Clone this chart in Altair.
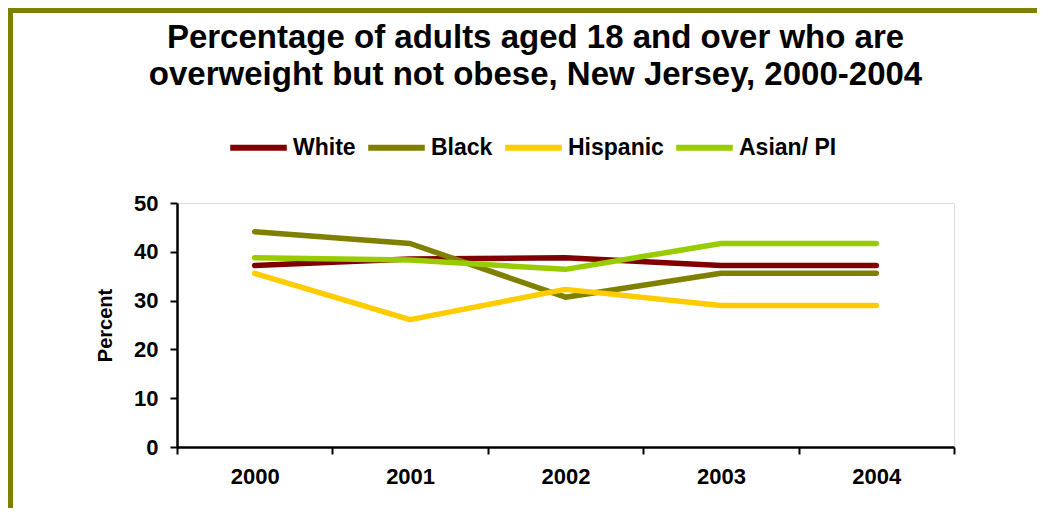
import altair as alt
import pandas as pd

years = ["2000", "2001", "2002", "2003", "2004"]
groups = ["White", "Black", "Hispanic", "Asian/ PI"]
colors = ["#800000", "#808000", "#FFCC00", "#99CC00"]
white = [37.2, 38.5, 38.8, 37.2, 37.2]
black = [44.1, 41.7, 30.7, 35.6, 35.6]
hispanic = [35.6, 26.1, 32.3, 29.0, 29.0]
asian = [38.8, 38.3, 36.4, 41.7, 41.7]

series = {"White": white, "Black": black, "Hispanic": hispanic, "Asian/ PI": asian}
rows = []
for g in groups:
    for y, v in zip(years, series[g]):
        rows.append({"Year": y, "Group": g, "Percent": v})
df = pd.DataFrame(rows)

FONT = "Liberation Sans"

lines = alt.Chart(df).mark_line(strokeWidth=5.5, strokeCap="round", strokeJoin="round").encode(
    x=alt.X("Year:O", bandPosition=0.5,
            scale=alt.Scale(type="band", paddingInner=0, paddingOuter=0),
            axis=alt.Axis(title=None, labelAngle=0, tickBand="extent", labelFontSize=22,
                          labelFontWeight="bold", labelFont=FONT, labelColor="black",
                          labelPadding=12, tickSize=7, tickWidth=2, domainWidth=2.5,
                          domainColor="black", tickColor="black")),
    y=alt.Y("Percent:Q", scale=alt.Scale(domain=[0, 50], nice=False),
            axis=alt.Axis(title="Percent", values=[0, 10, 20, 30, 40, 50], grid=False,
                          labelFontSize=22, labelFontWeight="bold", labelFont=FONT,
                          labelColor="black", labelPadding=12, tickSize=7, tickWidth=2,
                          domainWidth=2.5, domainColor="black", tickColor="black",
                          titleFontSize=20, titleFont=FONT, titleFontWeight="bold",
                          titleColor="black", titlePadding=18)),
    color=alt.Color("Group:N", scale=alt.Scale(domain=groups, range=colors),
                    legend=alt.Legend(title=None, orient="none", direction="horizontal",
                                      legendX=50, legendY=-87, symbolType="stroke",
                                      symbolSize=3200, symbolStrokeWidth=6,
                                      labelFontSize=23, labelFont=FONT, labelFontWeight="bold",
                                      labelColor="black", labelOffset=3, columnPadding=0)),
)

one = pd.DataFrame({"a": [0]})
top_border = alt.Chart(one).mark_rule(color="#808000", strokeWidth=5).encode(
    x=alt.value(-169), x2=alt.value(860), y=alt.value(-192.5))
left_border = alt.Chart(one).mark_rule(color="#808000", strokeWidth=5).encode(
    x=alt.value(-166.5), y=alt.value(-195), y2=alt.value(320))

chart = alt.layer(top_border, left_border, lines).properties(
    width=777, height=244,
    padding={"left": 169, "top": 195, "right": 87, "bottom": 61},
    autosize=alt.AutoSizeParams(type="none"),
    title=alt.TitleParams(
        ["Percentage of adults aged 18 and over who are",
         "overweight but not obese, New Jersey, 2000-2004"],
        anchor="middle", frame="group", dx=-30, offset=-86, fontSize=33, font=FONT,
        fontWeight="bold", color="black", lineHeight=37),
).configure_view(stroke=None).configure(background="white")

chart.save("out.html", embed_options={"renderer": "svg", "actions": False})
